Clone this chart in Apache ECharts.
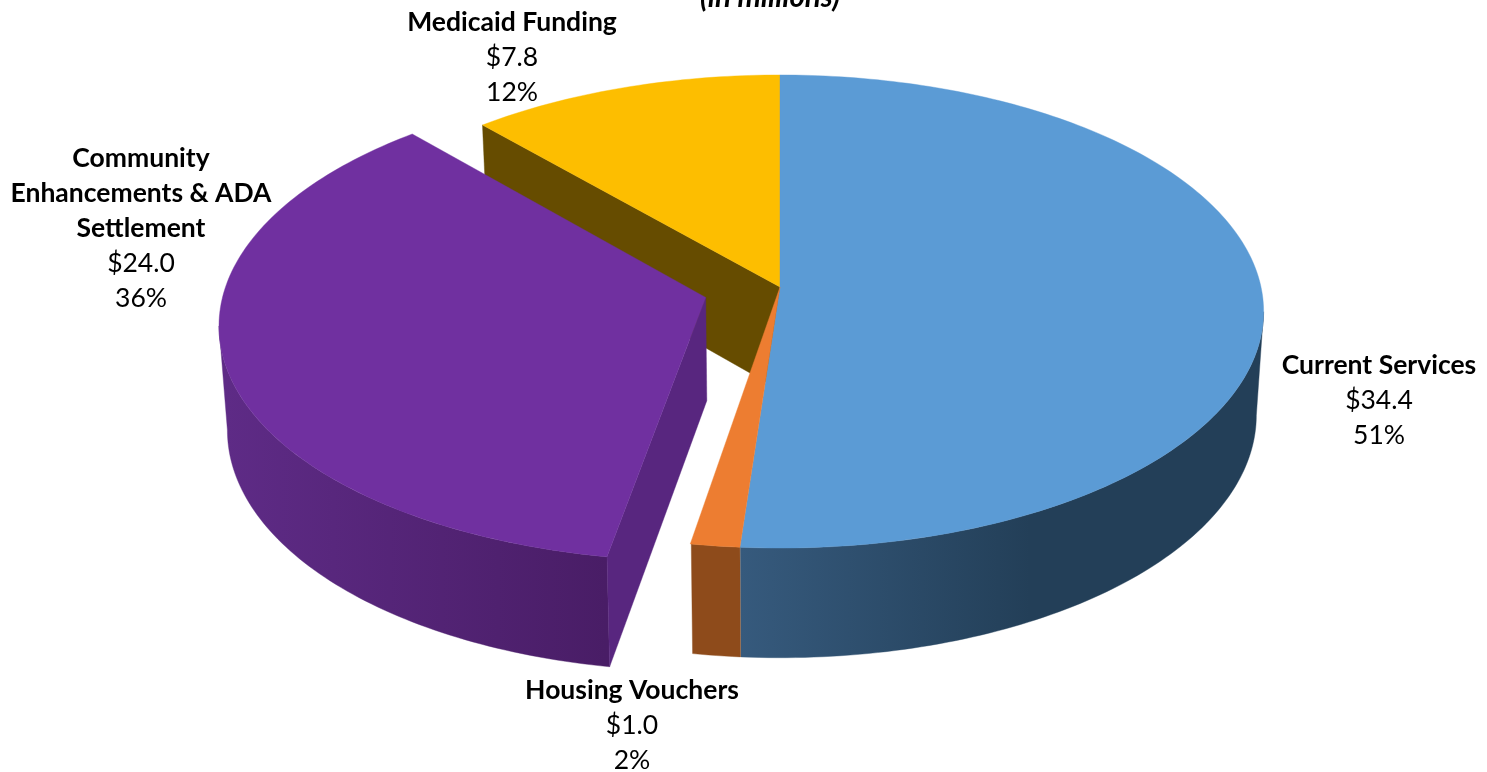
<!DOCTYPE html>
<html><head><meta charset="utf-8">
<style>html,body{margin:0;padding:0;background:#fff}#c{width:1487px;height:772px}</style>
<script src="https://cdn.jsdelivr.net/npm/echarts@6/dist/echarts.min.js"></script>
</head><body><div id="c"></div>
<script>
// ---- data ----
const categories = ['Current Services', 'Housing Vouchers', 'Community\nEnhancements & ADA\nSettlement', 'Medicaid Funding'];
const values = [34.4, 1.0, 24.0, 7.8];
const amountLabels = ['$34.4', '$1.0', '$24.0', '$7.8'];
const percentLabels = ['51%', '2%', '36%', '12%'];
const titleText = '(in millions)';

// ---- style / layout ----
const topColors = ['#5b9bd5', '#ed7d31', '#7030a0', '#fdbe00'];
const explode = [0, 0, 0.16, 0];
const P = {cx: 780, cy: 287, a: 481, b: 234, k: 0.1036, h: 103, sx: 0.985, sy: 0.98};
const labelPos = [[1379, 365], [632, 690], [141, 158], [512, 22]]; // centre x, first line y
const FONT = 'Lato, Carlito, sans-serif';

function proj(u, v, low) {
  const w = 1 - P.k * v;
  if (low) return [P.cx + P.sx * P.a * u / w, P.cy + (P.sy * P.b * v + P.h) / w];
  return [P.cx + P.a * u / w, P.cy + P.b * v / w];
}
function pt(deg, r, off, low) {
  const t = deg * Math.PI / 180;
  return proj(r * Math.sin(t) + off[0], -r * Math.cos(t) + off[1], low);
}
function arc(a1, a2, off, low) {
  const out = [], n = Math.max(2, Math.ceil(Math.abs(a2 - a1) / 1));
  for (let i = 0; i <= n; i++) out.push(pt(a1 + (a2 - a1) * i / n, 1, off, low));
  return out;
}
function grad(x1, x2, c1, c2) {
  return new echarts.graphic.LinearGradient(x1, 0, x2, 0,
    [{offset: 0, color: c1}, {offset: 1, color: c2}], true);
}
const wallFill = [
  () => grad(740, 1030, '#365a7d', '#233f58'),
  () => '#8e4b1b',
  () => grad(225, 606, '#5e2b86', '#491d66'),
  () => '#664c00'
];
const total = values.reduce((s, v) => s + v, 0);

// Visible rim runs between the slice's rightmost and leftmost points on screen
function silhouette(a1, a2, off) {
  let best1 = a1, best2 = a2, maxX = -Infinity, minX = Infinity;
  for (let t = a1; t <= a2; t += 0.25) {
    const x = pt(t, 1, off, false)[0];
    if (x > maxX) { maxX = x; best1 = t; }
    if (x < minX) { minX = x; best2 = t; }
  }
  return [best1, best2];
}

function renderItem(params, api) {
  const i = params.dataIndex;
  let start = 0;
  for (let j = 0; j < i; j++) start += values[j];
  const a1 = start / total * 360, a2 = (start + api.value(0)) / total * 360;
  const mid = (a1 + a2) / 2 * Math.PI / 180;
  const off = [explode[i] * Math.sin(mid), -explode[i] * Math.cos(mid)];
  const children = [];
  const apex = proj(off[0], off[1], false), apexLow = proj(off[0], off[1], true);
  const poly = (points, fill, z2) => children.push({
    type: 'polygon', shape: {points}, z2,
    style: {fill, stroke: fill, lineWidth: 0.4}
  });
  const base = 10 * (i === 3 ? 0 : i === 0 ? 1 : i === 1 ? 2 : 3);
  if (i !== 3) {
    const [w1, w2] = silhouette(a1, a2, off);
    poly(arc(w1, w2, off, false).concat(arc(w1, w2, off, true).reverse()), wallFill[i](), base + 1);
  }
  if (i === 3) {
    const p = pt(a1, 1, off, false), q = pt(a1, 1, off, true);
    poly([apex, p, q, apexLow], wallFill[3](), base + 1);
  }
  if (i === 2) {
    const p = pt(a1, 1, off, false), q = pt(a1, 1, off, true);
    poly([apex, p, q, apexLow], '#58267f', base + 2);
  }
  poly([apex].concat(arc(a1, a2, off, false)), topColors[i], base + 3);
  return {type: 'group', children};
}

const texts = [];
const addText = (text, x, y, font) => texts.push({type: 'text', x, y, z: 10,
  style: {text, align: 'center', verticalAlign: 'middle', fill: '#000', font}});
categories.forEach((name, i) => {
  let y = labelPos[i][1];
  name.split('\n').forEach(l => { addText(l, labelPos[i][0], y, 'bold 26.5px ' + FONT); y += 35; });
  [amountLabels[i], percentLabels[i]].forEach(l => { addText(l, labelPos[i][0], y, '26.5px ' + FONT); y += 35; });
});
addText(titleText, 770, -3, 'italic bold 29.5px ' + FONT);

const chart = echarts.init(document.getElementById('c'), null, {renderer: 'canvas'});
chart.setOption({
  animation: false,
  backgroundColor: '#fff',
  graphic: {elements: texts},
  series: [{
    type: 'custom',
    coordinateSystem: 'none',
    silent: true,
    renderItem,
    data: values.map(v => [v])
  }]
});
</script></body></html>
